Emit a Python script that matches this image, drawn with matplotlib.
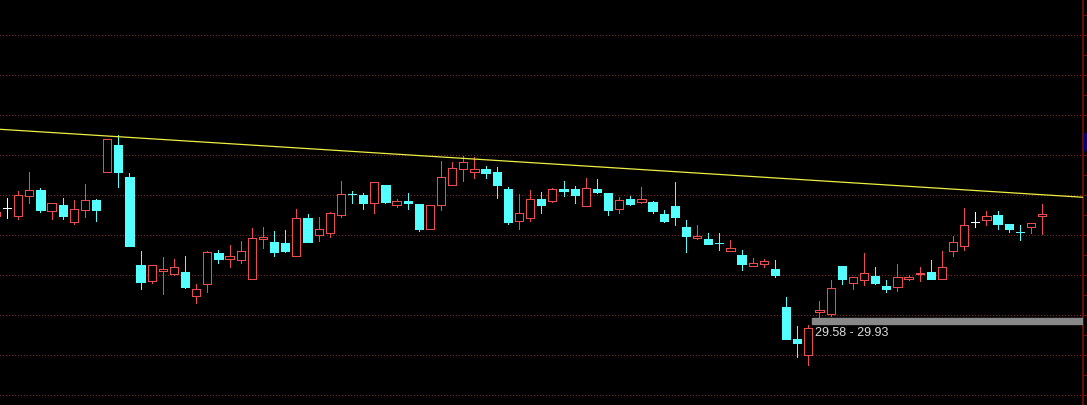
import matplotlib
matplotlib.use("Agg")
import matplotlib.pyplot as plt
from matplotlib.patches import Rectangle
import numpy as np

# daily bars, oldest first (the first bar is cut off by the left edge)
opens = [36.30, 36.80, 36.30, 37.55, 37.93, 36.61, 36.99, 35.93, 36.68, 37.30,
         39.05, 40.74, 38.74, 33.24, 32.24, 32.86, 32.68, 32.80, 31.30, 32.05,
         33.99, 33.61, 33.55, 32.36, 34.86, 34.68, 34.61, 33.80, 36.18, 35.11,
         35.24, 36.36, 37.68, 37.61, 37.11, 38.24, 36.99, 37.24, 37.05, 35.49,
         36.99, 38.24, 39.24, 39.05, 39.24, 39.05, 37.99, 35.99, 36.18, 37.36,
         37.24, 37.99, 37.99, 36.93, 37.99, 37.74, 36.74, 37.36, 37.18, 37.18,
         36.43, 36.93, 35.61, 34.93, 34.86, 34.64, 34.11, 33.86, 33.18, 33.30,
         32.99, 30.61, 28.61, 27.61, 30.30, 30.18, 33.18, 32.11, 32.30, 32.55,
         31.93, 31.86, 32.36, 32.68, 32.80, 32.36, 34.11, 34.43, 35.93, 36.05,
         36.36, 35.80, 35.31, 35.61, 36.30]
highs = [36.61, 37.43, 37.86, 39.05, 38.05, 37.11, 37.43, 37.30, 38.30, 37.36,
         41.11, 41.36, 38.99, 34.11, 33.24, 33.74, 33.61, 33.80, 32.05, 34.11,
         34.18, 34.49, 34.74, 35.55, 35.61, 35.36, 35.43, 36.74, 36.43, 36.24,
         36.55, 38.49, 37.86, 37.74, 38.43, 38.24, 37.36, 37.74, 37.05, 36.99,
         39.74, 39.68, 40.05, 39.99, 39.43, 39.36, 38.11, 37.68, 37.93, 37.80,
         38.05, 38.49, 38.18, 38.68, 38.61, 37.74, 37.49, 37.55, 38.11, 37.24,
         36.68, 38.43, 36.05, 35.74, 35.24, 35.24, 34.80, 34.18, 33.68, 33.61,
         33.55, 31.24, 29.43, 29.49, 30.99, 32.30, 33.18, 32.49, 33.99, 33.11,
         32.30, 33.30, 32.61, 33.11, 33.55, 34.11, 35.05, 36.80, 36.55, 36.61,
         36.61, 35.80, 35.74, 35.89, 37.05]
lows = [36.25, 36.18, 36.11, 37.11, 36.55, 36.11, 36.11, 35.80, 36.24, 35.99,
        39.05, 38.11, 34.43, 31.74, 32.11, 31.43, 32.61, 31.80, 30.86, 31.55,
        33.36, 33.11, 33.36, 32.36, 34.30, 33.80, 34.05, 33.80, 34.68, 34.74,
        34.99, 36.24, 37.11, 36.74, 36.49, 37.11, 36.86, 36.74, 35.36, 35.49,
        36.68, 38.24, 38.49, 38.68, 38.68, 37.43, 35.80, 35.49, 35.99, 36.49,
        37.18, 37.55, 37.11, 36.93, 37.74, 36.36, 36.49, 36.99, 37.11, 36.49,
        35.93, 35.74, 34.05, 34.86, 34.55, 34.18, 34.11, 32.93, 33.18, 33.11,
        32.49, 28.61, 27.49, 26.99, 29.99, 30.05, 32.05, 31.74, 31.99, 32.05,
        31.55, 31.61, 32.30, 32.24, 32.36, 32.36, 33.80, 34.18, 35.61, 35.74,
        35.49, 35.30, 34.80, 35.24, 35.18]
closes = [36.55, 36.80, 37.61, 37.93, 36.68, 37.11, 36.30, 36.74, 37.30, 36.68,
          41.11, 39.05, 34.43, 32.18, 33.24, 32.99, 33.11, 31.86, 31.74, 34.05,
          33.61, 33.80, 34.11, 34.93, 34.99, 34.05, 34.11, 36.18, 34.68, 35.49,
          36.49, 37.68, 37.66, 37.11, 38.43, 37.18, 37.24, 37.11, 35.49, 36.99,
          38.74, 39.30, 39.68, 39.24, 38.99, 38.24, 35.93, 36.49, 37.36, 36.99,
          37.99, 37.86, 37.61, 38.05, 37.80, 36.68, 37.30, 37.05, 37.36, 36.61,
          35.99, 36.24, 35.05, 35.05, 34.55, 34.61, 34.30, 33.30, 33.36, 33.49,
          32.61, 28.61, 28.36, 29.30, 30.43, 31.80, 32.36, 32.49, 32.74, 32.11,
          31.74, 32.49, 32.49, 32.74, 32.36, 33.11, 34.68, 35.74, 35.93, 36.30,
          35.80, 35.49, 35.30, 35.86, 36.43]

# resistance line, value at the left and right edge of the view
trend_start = 41.72
trend_end = 37.47

# support zone
zone_low = 29.58
zone_high = 29.93
zone_bar = 72
zone_label = "29.58 - 29.93"

up_color = "#ee4c4c"
down_color = "#54ffff"
flat_color = "#ffffff"
axis_color = "#7a1010"
grid_color = "#8a2424"
lw = 0.7

fig = plt.figure(figsize=(10.87, 4.05), dpi=100, facecolor="black")
ax = fig.add_axes([0, 0, 1083 / 1087, 1])
ax.set_facecolor("black")

# view: 11.13 px per bar, 16 px per price unit
x_left, x_right = -7 / 11.13, 1076 / 11.13
y_top = 49.80
y_bottom = y_top - 405 / 16
ax.set_xlim(x_left, x_right)
ax.set_ylim(y_bottom, y_top)

# dotted grid
for lvl in np.arange(y_top - 35 / 16, y_bottom, -2.5):
    ax.axhline(lvl, color=grid_color, lw=lw, ls=(0, (1, 3)), antialiased=False, zorder=0)

# candles
x = np.arange(len(opens)) - 1
w = 0.74
for xi, o, h, l, c in zip(x, opens, highs, lows, closes):
    top, bot = max(o, c), min(o, c)
    if c > o:
        ax.vlines(xi, top, h, color=up_color, lw=lw, antialiased=False)
        ax.vlines(xi, l, bot, color=up_color, lw=lw, antialiased=False)
        ax.add_patch(Rectangle((xi - w / 2, bot), w, top - bot, facecolor="black",
                               edgecolor=up_color, lw=lw, antialiased=False))
    elif c < o:
        ax.vlines(xi, l, h, color=down_color, lw=lw, antialiased=False)
        ax.add_patch(Rectangle((xi - w / 2, bot), w, top - bot, facecolor=down_color,
                               edgecolor=down_color, lw=lw, antialiased=False))
    else:
        ax.vlines(xi, l, h, color=flat_color, lw=lw, antialiased=False)
        ax.hlines(o, xi - w / 2, xi + w / 2, color=flat_color, lw=lw, antialiased=False)

# resistance line
ax.plot([x_left, x_right], [trend_start, trend_end], color="#eeee44", lw=0.9, zorder=3)

# support zone band and its label
ax.add_patch(Rectangle((zone_bar + w / 2, zone_low), x_right - zone_bar - w / 2,
                       zone_high - zone_low, color="#888888", zorder=4))
ax.text(zone_bar + 0.6, (zone_low + zone_high) / 2 - 0.75, zone_label, color="#dddddd",
        fontsize=9, family="Liberation Sans", ha="left", va="center")

# right price axis, labels fall outside the picture
for s in ["left", "top", "bottom"]:
    ax.spines[s].set_visible(False)
ax.spines["right"].set_color(axis_color)
ax.spines["right"].set_linewidth(1.2)
ax.set_xticks([])
ax.set_yticks(np.arange(y_top - 15 / 16, y_bottom, -1.25))
ax.tick_params(axis="y", left=False, right=True, labelleft=False, labelright=False,
               direction="out", length=3, width=lw, color=axis_color)

# cut-off price tag at the right edge
fig.add_artist(Rectangle((1084 / 1087, 1 - 150 / 405), 3 / 1087, 17 / 405,
                         transform=fig.transFigure, color="#000080"))

fig.savefig("out.png", dpi=100, facecolor="black")
